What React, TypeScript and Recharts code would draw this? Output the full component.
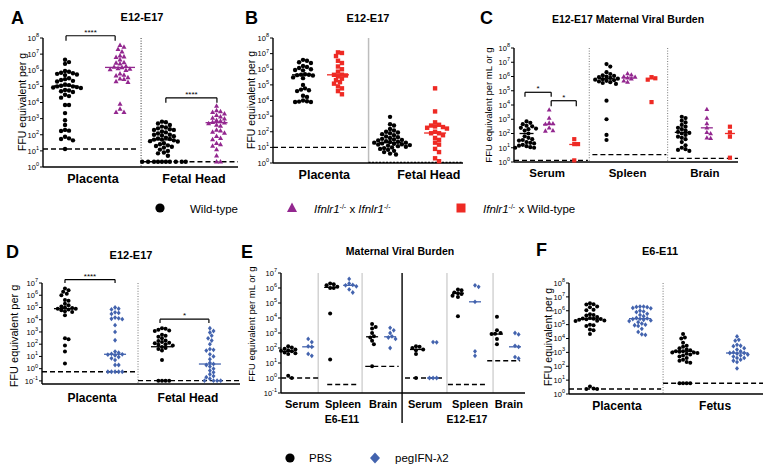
import React from 'react';
import { ScatterChart, Scatter, XAxis, YAxis, ReferenceLine } from 'recharts';

const W = 764;
const H = 475;
const XH = 24;
const YW = 30;
const FONT = '"Liberation Sans", Arial, Helvetica, sans-serif';
const BLACK = '#000000';
const PURPLE = '#93278F';
const RED = '#EE2A24';
const BLUE = '#4363AE';

// ---------- tick labels ----------
const ticks0to8 = [1, 10, 100, 1e3, 1e4, 1e5, 1e6, 1e7, 1e8];
const ticksM1to7 = [0.1, 1, 10, 100, 1e3, 1e4, 1e5, 1e6, 1e7];

// ---------- Panel A ----------
const catsA = ['Placenta', 'Fetal Head'];
const aPlacentaWT = [4.5e6, 3.2e6, 2.5e6, 9.0e5, 8.0e5, 7.0e5, 6.5e5, 6.0e5, 5.5e5, 5.0e5, 3.2e5, 2.8e5, 2.5e5, 2.2e5, 2.0e5, 1.3e5, 1.2e5, 1.1e5, 1.0e5, 1.0e5, 9.0e4, 8.5e4, 8.0e4, 6.0e4, 5.5e4, 5.0e4, 4.5e4, 3.0e4, 2.5e4, 2.0e4, 7.0e3, 7.0e3, 2.2e3, 8.0e2, 4.0e2, 2.0e2, 1.8e2, 1.7e2, 7.5e1, 6.0e1, 5.5e1, 4.5e1, 1.3e1];
const aPlacentaKO = [3.5e7, 2.8e7, 2.0e7, 1.4e7, 8.0e6, 7.0e6, 6.5e6, 4.5e6, 3.0e6, 2.8e6, 2.5e6, 1.8e6, 1.6e6, 1.5e6, 1.3e6, 1.2e6, 1.1e6, 1.0e6, 6.0e5, 5.0e5, 4.5e5, 3.5e5, 3.0e5, 2.8e5, 2.0e5, 1.8e5, 8.0e3, 4.0e3, 2.5e3, 2.5e3];
const aFetalWT = [6.5e2, 6.0e2, 5.0e2, 4.0e2, 3.2e2, 2.8e2, 2.5e2, 2.2e2, 2.0e2, 2.0e2, 1.6e2, 1.4e2, 1.2e2, 1.0e2, 1.0e2, 9.0e1, 8.0e1, 6.5e1, 6.0e1, 5.5e1, 5.0e1, 5.0e1, 4.5e1, 4.0e1, 3.8e1, 3.0e1, 2.6e1, 2.2e1, 2.0e1, 1.8e1, 1.6e1, 1.2e1, 1.0e1, 8.0, 7.0, 5.0, 2.1, 2.1, 2.1, 2.1, 2.1, 2.1, 2.1, 2.1, 2.1, 2.1];
const aFetalKO = [6.0e3, 3.2e3, 2.8e3, 2.5e3, 2.0e3, 1.6e3, 1.3e3, 1.1e3, 1.0e3, 8.0e2, 7.0e2, 6.0e2, 5.5e2, 5.0e2, 4.0e2, 3.5e2, 2.0e2, 1.8e2, 1.5e2, 1.3e2, 8.0e1, 6.0e1, 5.0e1, 3.0e1, 2.5e1, 2.0e1, 1.2e1, 5.0, 2.1, 2.1];
const aMedians = [1.07e5, 1.5e6, 4.8e1, 5.6e2];
const aLimits = [13, 2.1];

// ---------- Panel B ----------
const catsB = ['Placenta', 'Fetal Head'];
const bPlacentaWT = [4.0e6, 3.5e6, 2.8e6, 2.5e6, 1.6e6, 1.4e6, 1.2e6, 1.0e6, 9.0e5, 8.5e5, 4.8e5, 4.5e5, 4.4e5, 4.2e5, 4.0e5, 3.0e5, 2.7e5, 1.0e5, 6.0e4, 5.0e4, 4.5e4, 4.0e4, 2.0e4, 1.7e4, 1.0e4, 9.0e3, 8.5e3, 8.0e3, 8.0e3];
const bPlacentaHet = [1.2e7, 1.1e7, 7.0e6, 3.5e6, 2.5e6, 1.5e6, 1.0e6, 7.0e5, 4.5e5, 4.4e5, 4.0e5, 3.5e5, 2.5e5, 2.0e5, 1.5e5, 1.2e5, 8.0e4, 6.0e4, 4.0e4, 2.5e4];
const bFetalWT = [9.0e2, 3.0e2, 2.5e2, 1.5e2, 1.2e2, 1.0e2, 9.0e1, 8.0e1, 7.0e1, 6.0e1, 5.0e1, 4.5e1, 4.0e1, 3.5e1, 3.2e1, 3.0e1, 2.8e1, 2.5e1, 2.3e1, 2.2e1, 2.0e1, 2.0e1, 1.8e1, 1.7e1, 1.6e1, 1.5e1, 1.4e1, 1.3e1, 1.2e1, 1.1e1, 1.0e1, 9.0, 8.0, 7.0, 6.0, 5.0, 4.0, 3.5];
const bFetalHet = [6.0e4, 2.0e3, 4.0e2, 2.8e2, 2.5e2, 2.2e2, 2.0e2, 1.8e2, 1.6e2, 1.0e2, 8.0e1, 8.0e1, 6.0e1, 4.0e1, 3.0e1, 2.0e1, 1.5e1, 8.0, 5.0, 2.0, 1.3];
const bMedians = [4.4e5, 4.4e5, 2.0e1, 8.3e1];
const bLimits = [10, 1.1];

// ---------- Panel C ----------
const catsC = ['Serum', 'Spleen', 'Brain'];
const cSerumWT = [7.0e2, 5.6e2, 4.5e2, 3.5e2, 3.2e2, 2.5e2, 2.2e2, 2.0e2, 1.6e2, 1.0e2, 6.3e1, 5.0e1, 4.0e1, 3.5e1, 3.2e1, 2.5e1, 2.2e1, 2.0e1, 1.6e1, 1.4e1, 1.3e1, 1.1e1, 1.0e1, 1.0e1];
const cSerumKO = [4.5e3, 1.2e3, 5.5e2, 5.0e2, 4.5e2, 2.5e2, 1.6e2, 1.5e2];
const cSerumHet = [4.0e1, 1.8e1, 1.8e1, 1.3];
const cSpleenWT = [7.5e6, 5.0e6, 2.0e6, 1.5e6, 1.2e6, 1.1e6, 1.0e6, 9.0e5, 8.0e5, 7.0e5, 6.5e5, 6.0e5, 5.5e5, 5.0e5, 4.5e5, 4.0e5, 3.5e5, 3.0e5, 2.0e4, 1.0e3, 8.0e1, 3.5e1];
const cSpleenKO = [1.6e6, 1.3e6, 1.0e6, 9.0e5, 8.0e5, 7.0e5, 5.0e5, 4.0e5];
const cSpleenHet = [9.0e5, 7.5e5, 6.0e5, 1.6e4];
const cBrainWT = [1.5e3, 1.2e3, 8.0e2, 6.0e2, 4.0e2, 3.0e2, 2.5e2, 2.0e2, 1.6e2, 1.3e2, 1.1e2, 1.0e2, 8.0e1, 6.0e1, 5.0e1, 4.0e1, 2.5e1, 1.5e1, 1.0e1, 8.0, 7.0, 6.0];
const cBrainKO = [5.0e3, 1.2e3, 5.0e2, 2.5e2, 1.2e2, 1.0e2, 5.0e1, 4.5e1];
const cBrainHet = [3.0e2, 1.2e2, 6.0e1, 2.0];
const cMedians = [1.0e2, 4.3e2, 1.7e1, 7.0e5, 8.0e5, 7.0e5, 1.2e2, 2.5e2, 1.0e2];
const cLimits = [1.3, 3.3, 1.8];

// ---------- Panel D ----------
const catsD = ['Placenta', 'Fetal Head'];
const dPlacentaPBS = [3.5e6, 2.5e6, 1.9e6, 1.3e6, 1.0e6, 4.0e5, 3.5e5, 2.0e5, 1.5e5, 1.2e5, 1.0e5, 9.0e4, 8.0e4, 8.0e4, 7.0e4, 6.0e4, 5.0e4, 4.3e4, 2.3e4, 3.0e2, 2.5e2, 8.0e1, 2.5e1, 2.7];
const dPlacentaPeg = [1.0e5, 8.0e4, 7.0e4, 4.0e4, 3.6e4, 3.0e4, 1.5e4, 1.3e4, 1.2e4, 1.1e4, 3.6e3, 1.0e3, 2.1e2, 2.5e1, 2.0e1, 1.6e1, 1.5e1, 1.4e1, 1.2e1, 9.0, 7.0, 5.0, 2.0, 2.0, 0.56, 0.56, 0.56, 0.56, 0.56];
const dFetalPBS = [2.0e3, 1.8e3, 1.5e3, 1.3e3, 1.2e3, 6.0e2, 5.0e2, 4.0e2, 3.0e2, 2.0e2, 1.8e2, 1.5e2, 1.3e2, 1.2e2, 1.0e2, 9.0e1, 8.0e1, 6.0e1, 5.0e1, 4.0e1, 3.0e1, 5.0, 0.105, 0.105, 0.105, 0.105];
const dFetalPeg = [2.0e3, 1.2e3, 9.0e2, 5.0e2, 3.0e2, 2.0e2, 1.0e2, 4.0e1, 3.5e1, 3.0e1, 1.5e1, 1.0e1, 6.0, 3.0, 2.4, 2.0, 1.5, 1.0, 0.7, 0.5, 0.35, 0.25, 0.2, 0.15, 0.105, 0.105, 0.105, 0.105];
const dMedians = [8.0e4, 1.5e1, 6.2e1, 2.4];
const dLimits = [0.56, 0.105];

// ---------- Panel E ----------
const catsE = ['Serum', 'Spleen', 'Brain', 'Serum', 'Spleen', 'Brain'];
const eStages = ['E6-E11', 'E12-E17'];
const eSerumE6PBS = [1.3e2, 1.1e2, 9.0e1, 8.0e1, 7.0e1, 6.5e1, 6.0e1, 5.0e1, 4.5e1, 4.0e1, 1.4, 1.0];
const eSerumE6Peg = [4.0e2, 2.5e2, 1.3e2, 1.2e2, 4.0e1, 3.0e1];
const eSpleenE6PBS = [2.0e6, 1.8e6, 1.5e6, 1.2e6, 1.0e6, 1.0e6, 2.0e4, 1.7e1];
const eSpleenE6Peg = [4.0e6, 2.0e6, 1.6e6, 1.5e6, 1.3e6, 8.0e5, 5.0e5];
const eBrainE6PBS = [4.0e3, 2.5e3, 2.0e3, 1.0e3, 6.0e2, 5.0e2, 3.0e2, 1.8e2, 6.0];
const eBrainE6Peg = [2.2e3, 1.5e3, 1.0e3, 6.0e2, 5.0e2, 4.0e2, 1.0e2];
const eSerumE12PBS = [1.3e2, 1.2e2, 1.0e2, 8.0e1, 7.0e1, 4.0e1, 1.0];
const eSerumE12Peg = [2.5e2, 2.4e2, 1.0, 1.0, 1.0];
const eSpleenE12PBS = [8.0e5, 7.0e5, 5.0e5, 4.5e5, 4.0e5, 3.0e5, 2.5e5, 1.3e4];
const eSpleenE12Peg = [1.5e6, 1.2e6, 1.2e5, 6.0e1, 3.0e1];
const eBrainE12PBS = [1.2e4, 1.5e3, 1.0e3, 9.0e2, 8.5e2, 4.0e2, 1.8e2];
const eBrainE12Peg = [1.0e3, 8.0e2, 1.4e2, 1.2e2, 2.5e1, 2.0e1];
const eMedians = [6.0e1, 1.2e2, 1.1e6, 1.5e6, 5.6e2, 5.6e2, 8.0e1, 1.0, 4.5e5, 1.2e5, 8.5e2, 1.2e2];
const eLimits = [1.0, 0.37, 6.0, 1.0, 0.37, 14];

// ---------- Panel F ----------
const catsF = ['Placenta', 'Fetus'];
const fPlacentaPBS = [3.5e6, 3.0e6, 2.8e6, 2.0e6, 1.8e6, 1.2e6, 1.1e6, 5.5e5, 5.0e5, 4.5e5, 3.5e5, 3.0e5, 2.8e5, 2.6e5, 2.5e5, 2.4e5, 2.2e5, 2.0e5, 1.9e5, 1.8e5, 1.0e5, 9.0e4, 8.0e4, 4.5e4, 4.0e4, 2.1e4, 3.5, 2.5, 2.3, 2.3];
const fPlacentaPeg = [2.0e6, 2.0e6, 1.9e6, 1.8e6, 1.6e6, 1.5e6, 1.0e6, 9.0e5, 8.0e5, 6.0e5, 5.0e5, 4.0e5, 3.0e5, 2.8e5, 2.6e5, 2.5e5, 2.2e5, 2.0e5, 1.8e5, 1.5e5, 1.2e5, 1.0e5, 9.0e4, 8.0e4, 5.0e4, 3.0e4, 2.0e4, 1.8e4];
const fFetusPBS = [2.1e4, 1.2e4, 1.0e4, 5.0e3, 3.0e3, 2.5e3, 2.0e3, 1.6e3, 1.4e3, 1.2e3, 1.2e3, 1.1e3, 1.0e3, 1.0e3, 9.0e2, 8.0e2, 7.0e2, 6.0e2, 5.0e2, 4.0e2, 3.0e2, 2.5e2, 2.0e2, 1.8e2, 5.9, 5.9, 5.9, 5.9];
const fFetusPeg = [1.4e4, 8.0e3, 7.0e3, 3.5e3, 3.0e3, 2.8e3, 2.0e3, 1.6e3, 1.2e3, 1.0e3, 9.0e2, 9.0e2, 8.0e2, 7.0e2, 6.0e2, 5.0e2, 4.0e2, 4.0e2, 3.0e2, 2.5e2, 2.0e2, 7.0e1];
const fMedians = [2.6e5, 2.7e5, 1.2e3, 9.0e2];
const fLimits = [2.3, 5.9];

// ---------- types ----------
type Mark = 'circle' | 'triangle' | 'square' | 'diamond';
interface GroupSpec { values: number[]; x: number; mark: Mark; color: string; median: number; medHalf: number }
interface LodSpec { value: number; x1: number; x2: number; dash: string }
interface DivSpec { x: number; color: string; dash?: string; w: number; yTop?: number; yBottom?: number }
interface BrSpec { x1: number; x2: number; y: number; yt: number; text: string }
interface PanelSpec {
  box: { l: number; t: number; r: number; b: number };
  domain: [number, number];
  ticks: number[];
  cats: string[];
  catX: number[];
  catFont: number;
  tickSize: number;
  size: number;
  groups: GroupSpec[];
  lods: LodSpec[];
  dividers: DivSpec[];
  brackets: BrSpec[];
}

// beeswarm arrangement of a group's points (layout only)
function swarm(values: number[], xCenter: number, pxDec: number, pxU: number, d: number) {
  const sorted = [...values].sort((a, b) => b - a);
  const placed: [number, number][] = [];
  const out: { x: number; y: number }[] = [];
  for (const v of sorted) {
    const py = Math.log10(v) * pxDec;
    let chosen = 0;
    for (let k = 0; k < 80; k++) {
      const off = (k === 0 ? 0 : (k % 2 === 1 ? 1 : -1) * Math.ceil(k / 2)) * d * 0.5;
      if (placed.every(([px, qy]) => (px - off) ** 2 + (qy - py) ** 2 >= d * d)) {
        chosen = off;
        break;
      }
    }
    placed.push([chosen, py]);
    out.push({ x: xCenter + chosen / pxU, y: v });
  }
  return out;
}

function markerEl(mark: Mark, cx: number, cy: number, s: number, color: string) {
  if (cx == null || cy == null || isNaN(cx) || isNaN(cy)) return <g />;
  switch (mark) {
    case 'circle':
      return <circle cx={cx} cy={cy} r={s} fill={color} />;
    case 'triangle':
      return (
        <polygon
          points={`${cx},${cy - s * 1.25} ${cx - s * 1.15},${cy + s * 0.8} ${cx + s * 1.15},${cy + s * 0.8}`}
          fill={color}
        />
      );
    case 'square':
      return <rect x={cx - s} y={cy - s} width={s * 2} height={s * 2} fill={color} />;
    default:
      return (
        <polygon
          points={`${cx},${cy - s * 1.2} ${cx + s},${cy} ${cx},${cy + s * 1.2} ${cx - s},${cy}`}
          fill={color}
        />
      );
  }
}

const PowTick = (props: any) => {
  const { x, y, payload } = props;
  const e = Math.round(Math.log10(payload.value));
  return (
    <text x={x} y={y} textAnchor="end" fontFamily={FONT} fontSize={7.5} fill="#000">
      <tspan dy={2.8}>10</tspan>
      <tspan dy={-3.8} fontSize={5.5}>{e < 0 ? '-' + Math.abs(e) : String(e)}</tspan>
    </text>
  );
};

function Panel(p: PanelSpec) {
  const { box, domain } = p;
  const plotW = box.r - box.l;
  const plotH = box.b - box.t;
  const pxU = plotW / 100;
  const pxDec = plotH / (Math.log10(domain[1]) - Math.log10(domain[0]));
  const d = p.size * 1.8;
  const CatTick = (t: any) => {
    const idx = p.catX.indexOf(t.payload.value);
    return (
      <text
        x={t.x}
        y={t.y + p.catFont * 0.72}
        textAnchor="middle"
        fontFamily={FONT}
        fontWeight="bold"
        fontSize={p.catFont}
        fill="#000"
      >
        {idx >= 0 ? p.cats[idx] : ''}
      </text>
    );
  };
  return (
    <div style={{ position: 'absolute', left: 0, top: 0 }}>
      <ScatterChart
        width={W}
        height={H}
        margin={{ top: box.t, right: W - box.r, bottom: H - box.b - XH, left: box.l - YW }}
      >
        <XAxis
          type="number"
          dataKey="x"
          domain={[0, 100]}
          ticks={p.catX}
          interval={0}
          tickLine={false}
          tickSize={p.tickSize}
          height={XH}
          axisLine={{ stroke: '#000', strokeWidth: 1.4 }}
          tick={CatTick}
        />
        <YAxis
          type="number"
          dataKey="y"
          scale="log"
          domain={domain}
          ticks={p.ticks}
          interval={0}
          width={YW}
          tickSize={3}
          tickMargin={1}
          tickLine={{ stroke: '#000', strokeWidth: 1 }}
          axisLine={{ stroke: '#000', strokeWidth: 1.4 }}
          tick={PowTick}
        />
        {p.dividers.map((dv, i) => (
          <ReferenceLine
            key={'dv' + i}
            segment={[
              { x: dv.x, y: dv.yTop ?? domain[1] },
              { x: dv.x, y: dv.yBottom ?? domain[0] },
            ]}
            stroke={dv.color}
            strokeWidth={dv.w}
            strokeDasharray={dv.dash}
            ifOverflow="visible"
          />
        ))}
        {p.lods.map((l, i) => (
          <ReferenceLine
            key={'lod' + i}
            segment={[
              { x: l.x1, y: l.value },
              { x: l.x2, y: l.value },
            ]}
            stroke="#000"
            strokeWidth={1.4}
            strokeDasharray={l.dash}
            ifOverflow="visible"
          />
        ))}
        {p.groups.map((g, i) => (
          <Scatter
            key={'g' + i}
            data={swarm(g.values, g.x, pxDec, pxU, d)}
            isAnimationActive={false}
            shape={(sp: any) => markerEl(g.mark, sp.cx, sp.cy, p.size, g.color)}
          />
        ))}
        {p.groups.map((g, i) => (
          <ReferenceLine
            key={'m' + i}
            segment={[
              { x: g.x - g.medHalf / pxU, y: g.median },
              { x: g.x + g.medHalf / pxU, y: g.median },
            ]}
            stroke={g.color}
            strokeWidth={1.3}
            ifOverflow="visible"
          />
        ))}
        {p.brackets.map((b, i) => (
          <ReferenceLine
            key={'bh' + i}
            segment={[
              { x: b.x1, y: b.y },
              { x: b.x2, y: b.y },
            ]}
            stroke="#000"
            strokeWidth={1.2}
            ifOverflow="visible"
            label={{ value: b.text, position: 'top', offset: 1, fontSize: 8, fill: '#000', fontFamily: FONT }}
          />
        ))}
        {p.brackets.map((b, i) => (
          <ReferenceLine
            key={'bl' + i}
            segment={[
              { x: b.x1, y: b.y },
              { x: b.x1, y: b.yt },
            ]}
            stroke="#000"
            strokeWidth={1.2}
            ifOverflow="visible"
          />
        ))}
        {p.brackets.map((b, i) => (
          <ReferenceLine
            key={'br' + i}
            segment={[
              { x: b.x2, y: b.y },
              { x: b.x2, y: b.yt },
            ]}
            stroke="#000"
            strokeWidth={1.2}
            ifOverflow="visible"
          />
        ))}
      </ScatterChart>
    </div>
  );
}

const DOT = '1 1.6';
const DASH = '5 3';

const panels: PanelSpec[] = [
  {
    box: { l: 43, t: 38, r: 238, b: 167 },
    domain: [1, 1e8],
    ticks: ticks0to8,
    cats: catsA,
    catX: [25.6, 77.4],
    catFont: 12.5,
    tickSize: 5,
    size: 2.2,
    groups: [
      { values: aPlacentaWT, x: 11.3, mark: 'circle', color: BLACK, median: aMedians[0], medHalf: 11 },
      { values: aPlacentaKO, x: 39.5, mark: 'triangle', color: PURPLE, median: aMedians[1], medHalf: 15 },
      { values: aFetalWT, x: 61, mark: 'circle', color: BLACK, median: aMedians[2], medHalf: 11 },
      { values: aFetalKO, x: 89, mark: 'triangle', color: PURPLE, median: aMedians[3], medHalf: 11 },
    ],
    lods: [
      { value: aLimits[0], x1: 0, x2: 49, dash: DASH },
      { value: aLimits[1], x1: 50.5, x2: 100, dash: DASH },
    ],
    dividers: [{ x: 50.3, color: '#333', dash: DOT, w: 1 }],
    brackets: [
      { x1: 11.8, x2: 37, y: 1.38e8, yt: 6.8e7, text: '****' },
      { x1: 63, x2: 89.2, y: 1.95e4, yt: 9.5e3, text: '****' },
    ],
  },
  {
    box: { l: 273, t: 38, r: 463, b: 163 },
    domain: [1, 1e8],
    ticks: ticks0to8,
    cats: catsB,
    catX: [27, 82],
    catFont: 12.5,
    tickSize: 5,
    size: 2.2,
    groups: [
      { values: bPlacentaWT, x: 15.8, mark: 'circle', color: BLACK, median: bMedians[0], medHalf: 11 },
      { values: bPlacentaHet, x: 34.2, mark: 'square', color: RED, median: bMedians[1], medHalf: 11 },
      { values: bFetalWT, x: 61.6, mark: 'circle', color: BLACK, median: bMedians[2], medHalf: 11 },
      { values: bFetalHet, x: 85.3, mark: 'square', color: RED, median: bMedians[3], medHalf: 11 },
    ],
    lods: [
      { value: bLimits[0], x1: 0, x2: 50, dash: DASH },
      { value: bLimits[1], x1: 50.3, x2: 100, dash: '2 1.5' },
    ],
    dividers: [{ x: 50.3, color: '#bdbdbd', w: 1.5 }],
    brackets: [],
  },
  {
    box: { l: 514, t: 48, r: 738, b: 162 },
    domain: [1, 1e8],
    ticks: ticks0to8,
    cats: catsC,
    catX: [14.8, 50.7, 85.2],
    catFont: 11.5,
    tickSize: 5,
    size: 2.1,
    groups: [
      { values: cSerumWT, x: 5.6, mark: 'circle', color: BLACK, median: cMedians[0], medHalf: 7 },
      { values: cSerumKO, x: 15.7, mark: 'triangle', color: PURPLE, median: cMedians[1], medHalf: 6 },
      { values: cSerumHet, x: 26.9, mark: 'square', color: RED, median: cMedians[2], medHalf: 5 },
      { values: cSpleenWT, x: 41.3, mark: 'circle', color: BLACK, median: cMedians[3], medHalf: 7 },
      { values: cSpleenKO, x: 50.7, mark: 'triangle', color: PURPLE, median: cMedians[4], medHalf: 6 },
      { values: cSpleenHet, x: 61.4, mark: 'square', color: RED, median: cMedians[5], medHalf: 5 },
      { values: cBrainWT, x: 74.9, mark: 'circle', color: BLACK, median: cMedians[6], medHalf: 7 },
      { values: cBrainKO, x: 86.1, mark: 'triangle', color: PURPLE, median: cMedians[7], medHalf: 6 },
      { values: cBrainHet, x: 96.4, mark: 'square', color: RED, median: cMedians[8], medHalf: 5 },
    ],
    lods: [
      { value: cLimits[0], x1: 0, x2: 33, dash: DASH },
      { value: cLimits[1], x1: 35, x2: 68, dash: DASH },
      { value: cLimits[2], x1: 70, x2: 100, dash: DASH },
    ],
    dividers: [
      { x: 33.6, color: '#777', dash: DOT, w: 1 },
      { x: 68.6, color: '#777', dash: DOT, w: 1 },
    ],
    brackets: [
      { x1: 4.9, x2: 16.6, y: 7.8e4, yt: 3.8e4, text: '*' },
      { x1: 16.6, x2: 27.8, y: 2.0e4, yt: 8.3e3, text: '*' },
    ],
  },
  {
    box: { l: 42, t: 283, r: 240, b: 384 },
    domain: [0.056, 1e7],
    ticks: ticksM1to7,
    cats: catsD,
    catX: [25.3, 73.7],
    catFont: 12,
    tickSize: 7,
    size: 2.0,
    groups: [
      { values: dPlacentaPBS, x: 11.6, mark: 'circle', color: BLACK, median: dMedians[0], medHalf: 11 },
      { values: dPlacentaPeg, x: 36.9, mark: 'diamond', color: BLUE, median: dMedians[1], medHalf: 11 },
      { values: dFetalPBS, x: 60.6, mark: 'circle', color: BLACK, median: dMedians[2], medHalf: 11 },
      { values: dFetalPeg, x: 84.8, mark: 'diamond', color: BLUE, median: dMedians[3], medHalf: 11 },
    ],
    lods: [
      { value: dLimits[0], x1: 0, x2: 48, dash: DASH },
      { value: dLimits[1], x1: 48.5, x2: 100, dash: DASH },
    ],
    dividers: [{ x: 48.5, color: '#777', dash: DOT, w: 1 }],
    brackets: [
      { x1: 11.6, x2: 36.9, y: 1.9e7, yt: 1.0e7, text: '****' },
      { x1: 59.6, x2: 84.3, y: 1.1e4, yt: 5.5e3, text: '*' },
    ],
  },
  {
    box: { l: 281, t: 273, r: 525, b: 393 },
    domain: [0.1, 1e7],
    ticks: ticksM1to7,
    cats: catsE,
    catX: [8.6, 25.4, 41.8, 59.0, 77.5, 93.4],
    catFont: 11,
    tickSize: 5,
    size: 2.0,
    groups: [
      { values: eSerumE6PBS, x: 2.9, mark: 'circle', color: BLACK, median: eMedians[0], medHalf: 6 },
      { values: eSerumE6Peg, x: 11.1, mark: 'diamond', color: BLUE, median: eMedians[1], medHalf: 6 },
      { values: eSpleenE6PBS, x: 20.1, mark: 'circle', color: BLACK, median: eMedians[2], medHalf: 6 },
      { values: eSpleenE6Peg, x: 27.9, mark: 'diamond', color: BLUE, median: eMedians[3], medHalf: 6 },
      { values: eBrainE6PBS, x: 37.3, mark: 'circle', color: BLACK, median: eMedians[4], medHalf: 6 },
      { values: eBrainE6Peg, x: 44.7, mark: 'diamond', color: BLUE, median: eMedians[5], medHalf: 6 },
      { values: eSerumE12PBS, x: 55.3, mark: 'circle', color: BLACK, median: eMedians[6], medHalf: 6 },
      { values: eSerumE12Peg, x: 62.3, mark: 'diamond', color: BLUE, median: eMedians[7], medHalf: 6 },
      { values: eSpleenE12PBS, x: 72.5, mark: 'circle', color: BLACK, median: eMedians[8], medHalf: 6 },
      { values: eSpleenE12Peg, x: 79.5, mark: 'diamond', color: BLUE, median: eMedians[9], medHalf: 6 },
      { values: eBrainE12PBS, x: 88.5, mark: 'circle', color: BLACK, median: eMedians[10], medHalf: 6 },
      { values: eBrainE12Peg, x: 95.9, mark: 'diamond', color: BLUE, median: eMedians[11], medHalf: 6 },
    ],
    lods: [
      { value: eLimits[0], x1: 0, x2: 15.2, dash: DASH },
      { value: eLimits[1], x1: 18.9, x2: 31.6, dash: DASH },
      { value: eLimits[2], x1: 34.5, x2: 48.2, dash: DASH },
      { value: eLimits[3], x1: 50.8, x2: 66, dash: DASH },
      { value: eLimits[4], x1: 68.4, x2: 83.6, dash: DASH },
      { value: eLimits[5], x1: 84.5, x2: 98, dash: DASH },
    ],
    dividers: [
      { x: 15.2, color: '#c8c8c8', w: 1.2 },
      { x: 33.2, color: '#c8c8c8', w: 1.2 },
      { x: 49.6, color: '#000', w: 1.4, yBottom: 1e-3 },
      { x: 68.0, color: '#c8c8c8', w: 1.2 },
      { x: 86.9, color: '#c8c8c8', w: 1.2 },
    ],
    brackets: [],
  },
  {
    box: { l: 569, t: 283, r: 763, b: 394 },
    domain: [1, 1e8],
    ticks: ticks0to8,
    cats: catsF,
    catX: [24.7, 75.3],
    catFont: 12,
    tickSize: 5,
    size: 2.0,
    groups: [
      { values: fPlacentaPBS, x: 10.8, mark: 'circle', color: BLACK, median: fMedians[0], medHalf: 11 },
      { values: fPlacentaPeg, x: 36.6, mark: 'diamond', color: BLUE, median: fMedians[1], medHalf: 11 },
      { values: fFetusPBS, x: 58.8, mark: 'circle', color: BLACK, median: fMedians[2], medHalf: 11 },
      { values: fFetusPeg, x: 86.6, mark: 'diamond', color: BLUE, median: fMedians[3], medHalf: 11 },
    ],
    lods: [
      { value: fLimits[0], x1: 0, x2: 47.5, dash: DASH },
      { value: fLimits[1], x1: 48.5, x2: 100, dash: DASH },
    ],
    dividers: [{ x: 48.5, color: '#777', dash: DOT, w: 1 }],
    brackets: [],
  },
];

const letters = [
  { t: 'A', x: 11, y: 24 },
  { t: 'B', x: 245, y: 24 },
  { t: 'C', x: 480, y: 24 },
  { t: 'D', x: 6, y: 258 },
  { t: 'E', x: 241, y: 258 },
  { t: 'F', x: 536, y: 256 },
];
const titles = [
  { t: 'E12-E17', x: 142, y: 21, fs: 11 },
  { t: 'E12-E17', x: 368, y: 22, fs: 11 },
  { t: 'E12-E17 Maternal Viral Burden', x: 628, y: 23, fs: 10.5 },
  { t: 'E12-E17', x: 131, y: 259, fs: 11 },
  { t: 'Maternal Viral Burden', x: 400, y: 255, fs: 10.5 },
  { t: 'E6-E11', x: 660, y: 255, fs: 11 },
];
const yLabels = [
  { t: 'FFU equivalent per g', x: 26, y: 102, fs: 10.5 },
  { t: 'FFU equivalent per g', x: 255, y: 100, fs: 10.5 },
  { t: 'FFU equivalent per mL or g', x: 492, y: 105, fs: 9.5 },
  { t: 'FFU equivalent per g', x: 18, y: 336, fs: 11 },
  { t: 'FFU equivalent per mL or g', x: 255, y: 324, fs: 9.5 },
  { t: 'FFU equivalent per g', x: 552, y: 337, fs: 10.5 },
];

function Ko() {
  return (
    <>
      <tspan fontStyle="italic">Ifnlr1</tspan>
      <tspan dy={-4.5} fontSize={7}>-/-</tspan>
    </>
  );
}

function Overlay() {
  return (
    <svg
      width={W}
      height={H}
      style={{ position: 'absolute', left: 0, top: 0, pointerEvents: 'none' }}
      fontFamily={FONT}
    >
      {letters.map((l) => (
        <text key={l.t} x={l.x} y={l.y} fontSize={18} fontWeight="bold" fill="#000">
          {l.t}
        </text>
      ))}
      {titles.map((t, i) => (
        <text key={'t' + i} x={t.x} y={t.y} fontSize={t.fs} fontWeight="bold" textAnchor="middle" fill="#000">
          {t.t}
        </text>
      ))}
      {yLabels.map((t, i) => (
        <text
          key={'y' + i}
          x={t.x}
          y={t.y}
          fontSize={t.fs}
          textAnchor="middle"
          fill="#000"
          transform={`rotate(-90 ${t.x} ${t.y})`}
        >
          {t.t}
        </text>
      ))}
      {eStages.map((s, i) => (
        <text key={'s' + i} x={i === 0 ? 342 : 467} y={423} fontSize={10.5} fontWeight="bold" textAnchor="middle">
          {s}
        </text>
      ))}
      {/* top legend */}
      <circle cx={160} cy={208} r={4.6} fill={BLACK} />
      <text x={190} y={212.5} fontSize={11.5}>Wild-type</text>
      <polygon points="292,202.5 287,212 297,212" fill={PURPLE} />
      <text x={314} y={213} fontSize={11.5}>
        <Ko />
        <tspan dy={4.5}> x </tspan>
        <Ko />
      </text>
      <rect x={456.5} y={203.5} width={9} height={9} fill={RED} />
      <text x={483} y={213} fontSize={11.5}>
        <Ko />
        <tspan dy={4.5}> x Wild-type</tspan>
      </text>
      {/* bottom legend */}
      <circle cx={290} cy={458} r={4.6} fill={BLACK} />
      <text x={309} y={462} fontSize={11.5}>PBS</text>
      <polygon points="375,452.5 380,458 375,463.5 370,458" fill={BLUE} />
      <text x={395} y={462} fontSize={11.5}>pegIFN-λ2</text>
    </svg>
  );
}

export default function App() {
  return (
    <div
      style={{
        position: 'absolute',
        left: 0,
        top: 0,
        width: W,
        height: H,
        background: '#fff',
        overflow: 'hidden',
        fontFamily: FONT,
      }}
    >
      {panels.map((p, i) => (
        <Panel key={i} {...p} />
      ))}
      <Overlay />
    </div>
  );
}
